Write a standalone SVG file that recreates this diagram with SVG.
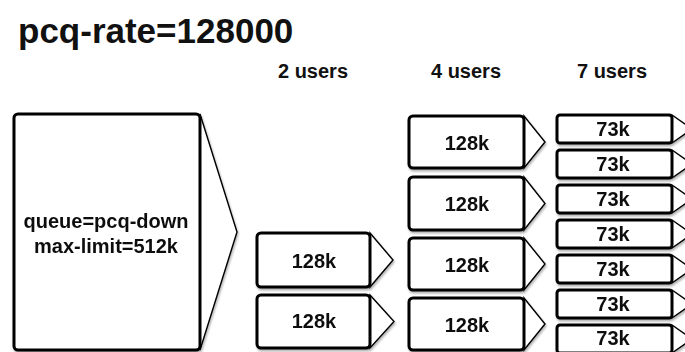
<svg xmlns="http://www.w3.org/2000/svg" width="685" height="352" viewBox="0 0 685 352">
<style>
text{font-family:"Liberation Sans",Arial,Helvetica,sans-serif;font-weight:bold;fill:#111;text-anchor:middle}
.title{font-size:35px;text-anchor:start}
.hdr{font-size:20px}
.lbl{font-size:20px}
.box{fill:#fff;stroke:#000;stroke-width:3}
.tri{fill:#fff;stroke:#000;stroke-width:1.4;stroke-linejoin:miter}
.node{filter:url(#sh)}
</style>
<defs>
<filter id="sh" x="-10%" y="-10%" width="130%" height="140%">
<feDropShadow dx="1" dy="2" stdDeviation="1.2" flood-color="#000" flood-opacity="0.3"/>
</filter>
</defs>
<rect width="685" height="352" fill="#fff"/>
<text class="title" x="18" y="43">pcq-rate=128000</text>
<text class="hdr" x="313" y="78">2 users</text>
<text class="hdr" x="466" y="78">4 users</text>
<text class="hdr" x="612" y="78">7 users</text>

<g id="queue" class="node">
<polygon class="tri" points="200,114 237,232 200,350"/>
<rect class="box" x="14" y="114" width="186" height="236" rx="4"/>
<text class="lbl" x="106" y="228">queue=pcq-down</text>
<text class="lbl" x="106" y="253">max-limit=512k</text>
</g>

<g id="u2-1" class="node">
<polygon class="tri" points="370,233 393,260 370,287"/>
<rect class="box" x="257" y="233" width="113" height="54" rx="4"/>
<text class="lbl" x="314" y="268">128k</text>
</g>
<g id="u2-2" class="node">
<polygon class="tri" points="370,295 394,321.5 370,348"/>
<rect class="box" x="257" y="295" width="113" height="53" rx="4"/>
<text class="lbl" x="314" y="328">128k</text>
</g>

<g id="u4-1" class="node">
<polygon class="tri" points="524,116 545,142 524,168"/>
<rect class="box" x="409" y="116" width="115" height="52" rx="4"/>
<text class="lbl" x="467" y="150">128k</text>
</g>
<g id="u4-2" class="node">
<polygon class="tri" points="524,177 545,203.5 524,230"/>
<rect class="box" x="409" y="177" width="115" height="53" rx="4"/>
<text class="lbl" x="467" y="211">128k</text>
</g>
<g id="u4-3" class="node">
<polygon class="tri" points="524,238 545,264 524,290"/>
<rect class="box" x="409" y="238" width="115" height="52" rx="4"/>
<text class="lbl" x="467" y="272">128k</text>
</g>
<g id="u4-4" class="node">
<polygon class="tri" points="524,298 545,324 524,350"/>
<rect class="box" x="409" y="298" width="115" height="52" rx="4"/>
<text class="lbl" x="467" y="332">128k</text>
</g>

<g id="u7-1" class="node">
<polygon class="tri" points="672,115 692,129 672,143"/>
<rect class="box" x="557" y="115" width="115" height="28" rx="3"/>
<text class="lbl" x="613" y="136">73k</text>
</g>
<g id="u7-2" class="node">
<polygon class="tri" points="672,150 692,164 672,178"/>
<rect class="box" x="557" y="150" width="115" height="28" rx="3"/>
<text class="lbl" x="613" y="171">73k</text>
</g>
<g id="u7-3" class="node">
<polygon class="tri" points="672,185 692,199 672,213"/>
<rect class="box" x="557" y="185" width="115" height="28" rx="3"/>
<text class="lbl" x="613" y="206">73k</text>
</g>
<g id="u7-4" class="node">
<polygon class="tri" points="672,220 692,234 672,248"/>
<rect class="box" x="557" y="220" width="115" height="28" rx="3"/>
<text class="lbl" x="613" y="241">73k</text>
</g>
<g id="u7-5" class="node">
<polygon class="tri" points="672,255 692,269 672,283"/>
<rect class="box" x="557" y="255" width="115" height="28" rx="3"/>
<text class="lbl" x="613" y="276">73k</text>
</g>
<g id="u7-6" class="node">
<polygon class="tri" points="672,290 692,304 672,318"/>
<rect class="box" x="557" y="290" width="115" height="28" rx="3"/>
<text class="lbl" x="613" y="311">73k</text>
</g>
<g id="u7-7" class="node">
<polygon class="tri" points="672,325 692,339 672,353"/>
<rect class="box" x="557" y="325" width="115" height="28" rx="3"/>
<text class="lbl" x="613" y="345">73k</text>
</g>
</svg>
